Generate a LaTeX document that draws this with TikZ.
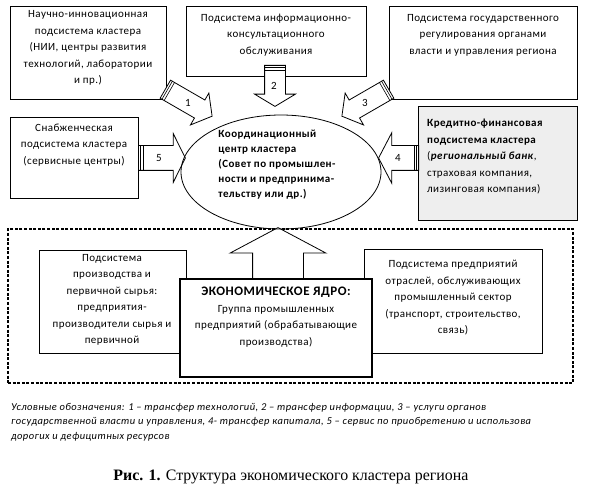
\documentclass[tikz,border=0pt]{standalone}
\usepackage{fontspec}
\setmainfont{Carlito}[LetterSpace=4]
\newfontfamily\capfont{Liberation Serif}
\usetikzlibrary{shapes.geometric, shapes.arrows, calc}

\tikzset{
  frame/.style 2 args={draw, line width=0.8pt, fill=white, inner sep=0pt,
                       minimum width=#1, minimum height=#2},
  txt/.style={align=center, inner sep=0pt, font=\fontsize{11}{16.5}\selectfont},
  barrow/.style={single arrow, draw, fill=white, line width=0.8pt,
                 inner xsep=0pt, anchor=tail},
  num/.style={inner sep=0pt, font=\fontsize{11}{13}\selectfont}
}

\begin{document}
\begin{tikzpicture}[x=1pt, y=-1pt]
\useasboundingbox (0,0) rectangle (590,495);

% upper subsystems
\node [frame={156}{93}] (A) at (88,52.5) {};
\node [frame={180}{70}] (B) at (276,41) {};
\node [frame={188}{93}] (C) at (483,52.5) {};
\node [frame={128}{81}] (D) at (74,157.5) {};
\node [frame={159}{114}, fill=gray!13] (E) at (497.5,163) {};

\node [txt] (At) at (88,48) {Научно-инновационная\\подсистема кластера\\(НИИ, центры развития\\технологий, лаборатории\\и пр.)};
\node [txt] (Bt) at (276,35) {Подсистема информационно-\\консультационного\\обслуживания};
\node [txt] (Ct) at (483,35) {Подсистема государственного\\регулирования органами\\власти и управления региона};
\node [txt] (Dt) at (74,145) {Снабженческая\\подсистема кластера\\(сервисные центры)};
\node [txt, align=left, anchor=west] (Et) at (427,157) {\textbf{Кредитно-финансовая}\\\textbf{подсистема кластера}\\(\textbf{\textit{региональный банк}},\\страховая компания,\\лизинговая компания)};

% economic core
\node [frame={565}{154}, dashed, dash pattern=on 3pt off 1.6pt, line width=1.3pt, fill=none] (zone) at (290.5,306) {};
\node [frame={147}{103}] (F) at (112.5,301.5) {};
\node [frame={178}{104}] (H) at (453,301) {};
\node [frame={192}{98}, line width=2.2pt] (G) at (276,328) {};

\node [txt] (Ft) at (112,300) {Подсистема\\производства и\\первичной сырья:\\предприятия-\\производители сырья и\\первичной};
\node [txt] (Ht) at (453,298) {Подсистема предприятий\\отраслей, обслуживающих\\промышленный сектор\\(транспорт, строительство,\\связь)};
\node [txt] (Gt) at (276,317) {{\fontsize{13}{16.5}\selectfont\bfseries ЭКОНОМИЧЕСКОЕ ЯДРО:}\\Группа промышленных\\предприятий (обрабатывающие\\производства)};

% block arrows
\node [barrow, minimum height=54, inner ysep=10, single arrow head extend=8,
       single arrow tip angle=104, rotate=-30] (a1) at (165,89) {};
\node [barrow, minimum height=41, inner ysep=10, single arrow head extend=10,
       single arrow tip angle=118, rotate=-90] (a2) at (275,65) {};
\node [barrow, minimum height=54, inner ysep=10, single arrow head extend=8,
       single arrow tip angle=104, rotate=-150] (a3) at (389,89) {};
\node [barrow, minimum height=40, inner ysep=12, single arrow head extend=13,
       single arrow tip angle=125, rotate=180] (a4) at (419,158) {};
\node [barrow, minimum height=47, inner ysep=12, single arrow head extend=12,
       single arrow tip angle=127] (a5) at (138,158) {};
\node [barrow, minimum height=51, inner ysep=25, single arrow head extend=22.5,
       single arrow tip angle=124, rotate=90] (a6) at (278,279) {};

\foreach \a in {a1,a2,a3,a4,a5}
  \foreach \d in {2.5pt,5pt}
    \draw [line width=0.6pt] ($(\a.before tail)!\d!(\a.after head)$) -- ($(\a.after tail)!\d!(\a.before head)$);

\node [num] (l1) at (188,103) {1};
\node [num] (l2) at (274,86) {2};
\node [num] (l3) at (365,103) {3};
\node [num] (l4) at (398,158) {4};
\node [num] (l5) at (159,158) {5};

% coordination centre
\node [ellipse, draw, line width=0.8pt, inner sep=0pt, minimum width=200, minimum height=114] (K) at (281,172) {};
\node [txt, align=left, font=\fontsize{11}{15}\selectfont\bfseries] (Kt) at (277,165) {Координационный\\центр кластера\\(Совет по промышлен-\\ности и предпринима-\\тельству или др.)};

% legend and caption
\node [align=left, anchor=north west, inner sep=0pt, font=\fontsize{10.5}{14.5}\selectfont\itshape] (legend) at (11,403) {Условные обозначения: 1 – трансфер технологий, 2 – трансфер информации, 3 – услуги органов\\государственной власти и управления, 4- трансфер капитала, 5 – сервис по приобретению и использова\\дорогих и дефицитных ресурсов};
\node [inner sep=0pt, font=\capfont\fontsize{15.9}{18}\selectfont] (caption) at (291,477) {\textbf{Рис. 1.} Структура экономического кластера региона};

\end{tikzpicture}
\end{document}
